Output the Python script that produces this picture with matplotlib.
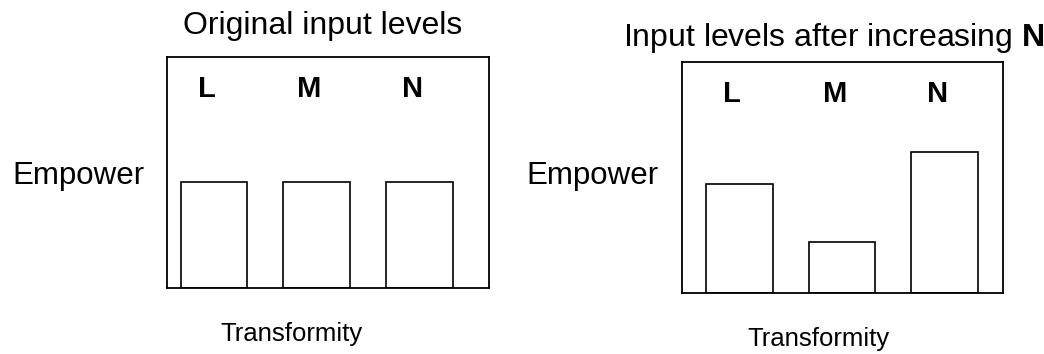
import matplotlib
matplotlib.use("Agg")
import matplotlib.pyplot as plt
from matplotlib import font_manager

plt.rcParams['font.family'] = ['Liberation Sans', 'DejaVu Sans']
plt.rcParams['mathtext.fontset'] = 'custom'
plt.rcParams['mathtext.bf'] = 'Liberation Sans:bold'
plt.rcParams['mathtext.rm'] = 'Liberation Sans'

# Data
categories = ['L', 'M', 'N']
original_levels = [4.6, 4.6, 4.6]
increased_levels = [4.7, 2.2, 6.1]

# the reference uses a narrow face for some labels
names = {f.name for f in font_manager.fontManager.ttflist}
if 'Liberation Sans Narrow' in names:
    narrow = ['Liberation Sans Narrow', 'DejaVu Sans']
    letter_size, axis_size = 23, 21
else:
    narrow = ['Liberation Sans', 'DejaVu Sans']
    letter_size, axis_size = 21, 18.5

W, H = 1044, 354
fig = plt.figure(figsize=(W / 100, H / 100), dpi=100)


def px_axes(x0, y0, x1, y1):
    # pixel box (from top-left) -> figure axes
    return fig.add_axes([x0 / W, 1 - y1 / H, (x1 - x0) / W, (y1 - y0) / H])


def panel(ax, values, xlim):
    pos = list(range(len(categories)))
    ax.bar(pos, values, width=0.65, facecolor='white', edgecolor='black',
           linewidth=1.2)
    for p, c in zip(pos, categories):
        ax.text(p - 0.07, 8.6, c, ha='center', va='center',
                fontsize=letter_size, fontweight='bold', family=narrow)
    ax.set_xlim(*xlim)
    ax.set_ylim(0, 10)
    ax.set_xticks([])
    ax.set_yticks([])
    for s in ax.spines.values():
        s.set_linewidth(1.3)


ax1 = px_axes(167, 57, 489, 288)
panel(ax1, original_levels, (-0.458, 2.678))

ax2 = px_axes(682, 62, 1003, 293)
panel(ax2, increased_levels, (-0.561, 2.571))

fig.text(323 / W, 1 - 26 / H, 'Original input levels', ha='center',
         va='center', fontsize=23)
fig.text(623 / W, 1 - 38 / H, 'Input levels after increasing $\\mathbf{N}$',
         ha='left', va='center', fontsize=23)

fig.text(78 / W, 1 - 176 / H, 'Empower', ha='center', va='center', fontsize=22.5)
fig.text(592 / W, 1 - 176 / H, 'Empower', ha='center', va='center', fontsize=22.5)

fig.text(291 / W, 1 - 334 / H, 'Transformity', ha='center', va='center',
         fontsize=axis_size, family=narrow)
fig.text(818 / W, 1 - 339 / H, 'Transformity', ha='center', va='center',
         fontsize=axis_size, family=narrow)

fig.savefig('out.png', dpi=100)
